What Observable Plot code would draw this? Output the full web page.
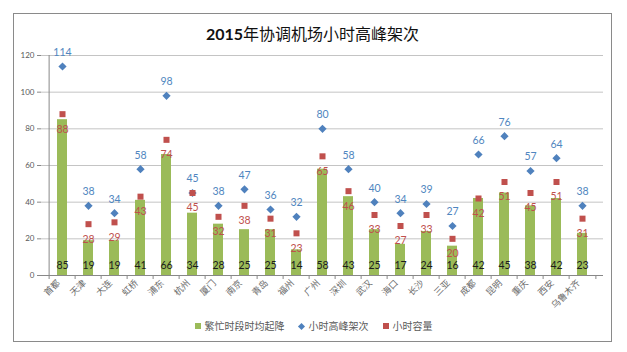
<!DOCTYPE html>
<html><head><meta charset="utf-8">
<script src="https://cdn.jsdelivr.net/npm/d3@7"></script>
<script src="https://cdn.jsdelivr.net/npm/@observablehq/plot@0.6"></script>
<style>
body{margin:0;background:#fff;font-family:Lato,"Noto Sans CJK SC",sans-serif;}
#page{position:relative;width:627px;height:352px;overflow:hidden;background:#fff;}
#frame{position:absolute;left:13px;top:13px;width:597px;height:327px;border:1px solid #8a8a8a;}
#title{position:absolute;left:0;top:23px;width:625px;text-align:center;font-size:16px;line-height:20px;color:#111;font-family:"Noto Sans CJK SC",sans-serif;}
#title b{font-family:Lato,sans-serif;font-weight:700;}
#chart{position:absolute;left:0;top:44px;}
#legend{position:absolute;top:319px;left:0;width:627px;text-align:center;font-size:10px;line-height:14px;color:#595959;font-family:"Noto Sans CJK SC",sans-serif;}
#legend span.item{margin:0 7px;}
#legend i{display:inline-block;vertical-align:middle;margin-right:4px;margin-top:-2px;}
</style></head>
<body>
<div id="page">
  <div id="frame"></div>
  <div id="title"><b>2015</b>年协调机场小时高峰架次</div>
  <div id="chart"></div>
  <div id="legend"></div>
</div>
<script>
const categories = ["首都","天津","大连","虹桥","浦东","杭州","厦门","南京","青岛","福州","广州","深圳","武汉","海口","长沙","三亚","成都","昆明","重庆","西安","乌鲁木齐"];
const busyMovements = [85,19,19,41,66,34,28,25,25,14,58,43,25,17,24,16,42,45,38,42,23];
const peakMovements = [114,38,34,58,98,45,38,47,36,32,80,58,40,34,39,27,66,76,57,64,38];
const hourlyCapacity = [88,28,29,43,74,45,32,38,31,23,65,46,33,27,33,20,42,51,45,51,31];
const yTicks = [0,20,40,60,80,100,120];
const seriesNames = ["繁忙时段时均起降","小时高峰架次","小时容量"];
const colors = {bar:"#9bbb59", peak:"#4f81bd", cap:"#c0504d"};

const rows = categories.map((c,i)=>({cat:c,busy:busyMovements[i],peak:peakMovements[i],cap:hourlyCapacity[i]}));

const W=627,H=270,ML=41,MR=24,MT=11,MB=39;
const step=(W-ML-MR)/categories.length;
const numFont = "Lato, 'Noto Sans CJK SC', sans-serif";

const chart = Plot.plot({
  width:W,height:H,marginLeft:ML,marginRight:MR,marginTop:MT,marginBottom:MB,
  style:{fontFamily:numFont,background:"transparent",overflow:"visible"},
  x:{domain:categories,paddingInner:0.6,paddingOuter:0.3,label:null},
  y:{domain:[0,120],label:null},
  marks:[
    Plot.gridY(yTicks.slice(1),{stroke:"#c4c4c4",strokeOpacity:1}),
    Plot.axisY({ticks:yTicks,tickSize:4,tickPadding:3,fontSize:8,color:"#595959",stroke:"#888",label:null}),
    Plot.barY(rows,{x:"cat",y:"busy",fill:colors.bar}),
    Plot.ruleY([0],{stroke:"#888"}),
    Plot.ruleX([categories[0]],{y1:0,y2:120,dx:-step/2,stroke:"#888"}),
    Plot.ruleX(categories,{y1:0,y2:0,insetBottom:-4,dx:-step/2,stroke:"#888"}),
    Plot.ruleX([categories[categories.length-1]],{y1:0,y2:0,insetBottom:-4,dx:step/2,stroke:"#888"}),
    Plot.axisX({tickSize:0,tickRotate:-45,tickPadding:6,dx:-4,fontSize:9,color:"#6a6a6a",fontFamily:"'Noto Sans CJK SC', sans-serif",label:null}),
    Plot.text(rows,{x:"cat",y:0,text:"busy",dy:-10,fontSize:10.5,fill:"#1c1c1c"}),
    Plot.dot(rows,{x:"cat",y:"peak",symbol:"diamond2",r:3.7,fill:colors.peak,stroke:"none"}),
    Plot.dot(rows,{x:"cat",y:"cap",symbol:"square",r:3.4,fill:colors.cap,stroke:"none"}),
    Plot.text(rows,{x:"cat",y:"peak",text:"peak",dy:-14,fontSize:10.5,fill:"#4f86c0"}),
    Plot.text(rows,{x:"cat",y:"cap",text:"cap",dy:15,fontSize:10.5,fill:"#c0504d"})
  ]
});
document.getElementById("chart").appendChild(chart);

const leg = document.getElementById("legend");
const sw = [
  `<i style="width:6px;height:6px;background:${colors.bar}"></i>`,
  `<i style="width:5px;height:5px;background:${colors.peak};transform:rotate(45deg);margin-right:5px"></i>`,
  `<i style="width:6px;height:6px;background:${colors.cap}"></i>`
];
leg.innerHTML = seriesNames.map((n,i)=>`<span class="item">${sw[i]}${n}</span>`).join("");
</script>
</body></html>
